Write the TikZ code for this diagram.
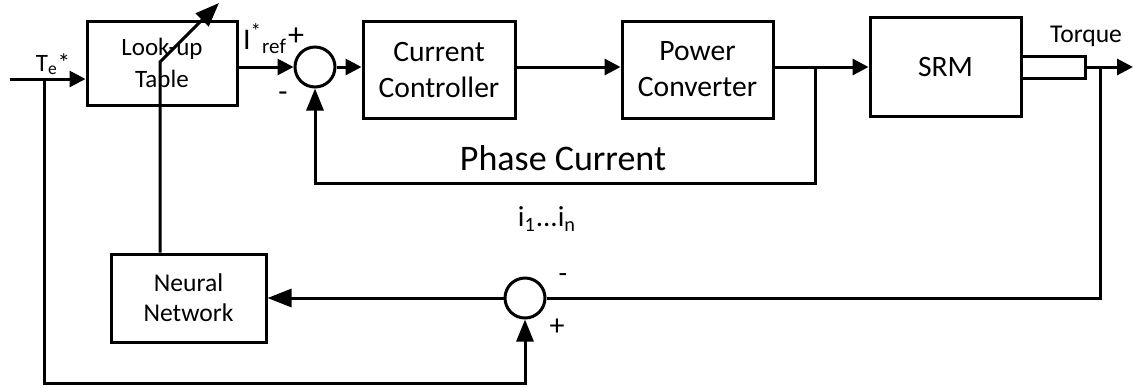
\documentclass[tikz,border=0pt]{standalone}
\usepackage{fontspec}
\setmainfont{Carlito}
\usetikzlibrary{arrows.meta}
\tikzset{
  block/.style={draw, line width=1.5pt, align=center, inner sep=0pt,
    font=\fontsize{14.8}{18}\selectfont},
  sumnode/.style={draw, circle, line width=1.5pt, minimum size=20pt, inner sep=0pt},
  wire/.style={line width=1.5pt},
  sig/.style={wire, -{Triangle[length=8pt,width=8pt]}},
  upsig/.style={wire, -{Triangle[length=11pt,width=8.5pt]}},
  bigsig/.style={wire, -{Triangle[length=12pt,width=9pt]}},
  lbl/.style={inner sep=0pt, font=\fontsize{12.8}{14}\selectfont}
}
\begin{document}
\begin{tikzpicture}[x=0.5pt,y=-0.5pt]
\useasboundingbox (0,0) rectangle (1133,387);
% forward path
\node[block, minimum width=75pt, minimum height=42pt, font=\fontsize{12.5}{16}\selectfont] (lut) at (162,63) {Look-up\\Table};
\node[sumnode] (sum1) at (315,67) {};
\node[block, minimum width=76pt, minimum height=48.5pt] (cc) at (439,69.5) {Current\\Controller};
\node[block, minimum width=75.5pt, minimum height=48.5pt] (pc) at (697.5,69.5) {Power\\Converter};
\node[block, minimum width=75.5pt, minimum height=49.5pt] (srm) at (945.5,66.5) {SRM};
\node[draw, line width=1.5pt, minimum width=32pt, minimum height=11pt, inner sep=0pt] (shaft) at (1053,67) {};
% learning path
\node[block, minimum width=77.5pt, minimum height=44pt, font=\fontsize{12.8}{15}\selectfont] (nn) at (188.5,298) {Neural\\Network};
\node[sumnode] (sum2) at (525,298) {};
\coordinate (tin) at (10,79);
\coordinate (inb) at (44,79);
\coordinate (bot) at (44,383);
\coordinate (pcb) at (815,67);
\coordinate (fb) at (815,183);
\coordinate (tqb) at (1100,67);
\coordinate (tout) at (1133,67);
\coordinate (tilt) at (160,62);
\coordinate (tiltend) at (219,3);

\draw[sig] (tin) -- (tin -| lut.west);
\draw[sig] (lut.east |- sum1) -- (sum1.west);
\draw[sig] (sum1.east) -- (sum1.east -| cc.west);
\draw[sig] (cc.east |- sum1) -- (pc.west |- sum1);
\draw[sig] (pc.east |- sum1) -- (srm.west |- sum1);
\draw[sig] (shaft.east) -- (tout);
\draw[upsig] (pcb) -- (fb) -| (sum1.south);
\draw[wire] (tqb) |- (sum2.east);
\draw[bigsig] (sum2.west) -- (nn.east);
\draw[upsig] (inb) -- (bot) -| (sum2.south);
\draw[bigsig] (nn.north -| tilt) -- (tilt) -- (tiltend);

% labels
\node[lbl, font=\fontsize{12.5}{14}\selectfont] (telab) at (53,64) {T\textsubscript{e}*};
\node[lbl, font=\fontsize{15}{18}\selectfont] (ireflab) at (265,39) {I\textsuperscript{*}\textsubscript{ref}};
\node[lbl, font=\fontsize{16}{18}\selectfont] (plus1) at (296,37) {+};
\node[lbl, font=\fontsize{15}{16}\selectfont] (minus1) at (283,97) {-};
\node[lbl, font=\fontsize{18}{20}\selectfont] (phlab) at (563,158) {Phase Current};
\node[lbl, font=\fontsize{14.5}{16}\selectfont] (ilab) at (547,219) {i\textsubscript{1}...i\textsubscript{n}};
\node[lbl] (tqlab) at (1086,36) {Torque};
\node[lbl, font=\fontsize{14}{16}\selectfont] (minus2) at (563,278) {-};
\node[lbl, font=\fontsize{15}{16}\selectfont] (plus2) at (557,327) {+};
\end{tikzpicture}
\end{document}
